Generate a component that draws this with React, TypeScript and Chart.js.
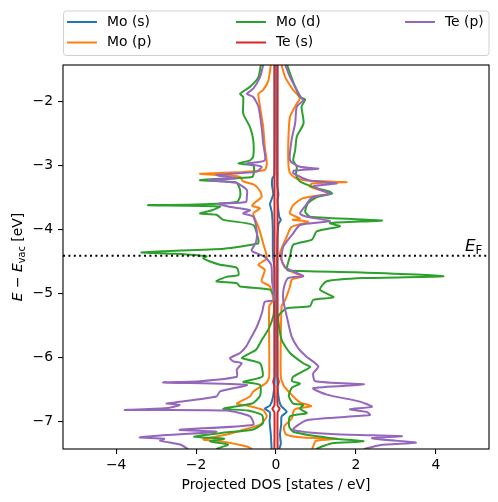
import { useEffect, useRef } from "react";
import { Chart, registerables } from "chart.js";

Chart.register(...registerables);

const FONT = "'DejaVu Sans', sans-serif";
const species = ["Mo (s)", "Mo (p)", "Mo (d)", "Te (s)", "Te (p)"];
const colors = ["#1f77b4", "#ff7f0e", "#2ca02c", "#d62728", "#9467bd"];
const xTicks = [-4, -2, 0, 2, 4];
const yTicks = [-2, -3, -4, -5, -6, -7];
const fermiLevel = -4.41;
const dosRange = [-5.33, 5.33];
const energyRange = [-7.43, -1.43];

// [energy (eV), projected DOS (states/eV)]; up = positive, down = negative
const moSUp: [number, number][] = [[-1.43,0.03],[-3.3,0.03],[-3.45,0.06],[-3.55,0.04],[-3.8,0.08],[-3.85,0.12],[-3.92,0.06],[-4.3,0.03],[-6.3,0.03],[-6.6,0.06],[-6.75,0.12],[-6.85,0.27],[-6.92,0.14],[-7.05,0.13],[-7.2,0.1],[-7.35,0.12],[-7.43,0.08]];
const moSDown: [number, number][] = [[-1.43,-0.03],[-3.15,-0.04],[-3.2,-0.09],[-3.3,-0.1],[-3.45,-0.07],[-3.6,-0.15],[-3.66,-0.13],[-3.75,-0.1],[-4.0,-0.08],[-4.3,-0.08],[-4.45,-0.07],[-4.6,-0.04],[-6.3,-0.03],[-6.6,-0.07],[-6.75,-0.15],[-6.8,-0.28],[-6.86,-0.15],[-7.0,-0.16],[-7.2,-0.13],[-7.43,-0.11]];
const moPUp: [number, number][] = [[-1.43,0.14],[-1.62,0.23],[-1.82,0.43],[-1.95,0.6],[-2.03,0.52],[-2.24,0.35],[-2.6,0.31],[-2.97,0.31],[-3.12,0.35],[-3.2,0.5],[-3.24,0.85],[-3.26,1.77],[-3.28,0.9],[-3.33,0.85],[-3.41,1.23],[-3.44,1.35],[-3.51,0.68],[-3.62,0.43],[-3.75,0.35],[-3.83,0.6],[-3.85,0.42],[-3.88,0.81],[-3.96,0.39],[-4.11,0.27],[-4.37,0.1],[-4.5,0.15],[-4.6,0.23],[-4.69,0.5],[-4.73,0.68],[-4.78,0.4],[-4.89,0.35],[-5.1,0.23],[-5.2,0.14],[-6.3,0.12],[-6.45,0.2],[-6.5,0.27],[-6.61,0.43],[-6.7,0.6],[-6.76,0.88],[-6.8,0.5],[-6.85,0.43],[-6.95,0.4],[-7.08,0.2],[-7.2,0.25],[-7.25,0.68],[-7.27,1.52],[-7.3,1.0],[-7.39,0.93],[-7.43,0.9]];
const moPDown: [number, number][] = [[-1.43,-0.13],[-1.67,-0.19],[-1.82,-0.32],[-1.88,-0.44],[-2.08,-0.4],[-2.4,-0.32],[-2.71,-0.28],[-2.97,-0.23],[-3.07,-0.28],[-3.1,-0.8],[-3.13,-1.9],[-3.16,-1.1],[-3.18,-0.9],[-3.25,-0.82],[-3.3,-0.55],[-3.4,-0.4],[-3.49,-0.36],[-3.58,-0.53],[-3.63,-0.6],[-3.67,-0.4],[-3.75,-0.57],[-3.96,-0.44],[-4.22,-0.32],[-4.45,-0.23],[-4.55,-0.44],[-4.63,-0.28],[-4.81,-0.36],[-4.89,-0.15],[-5.1,-0.07],[-5.2,-0.17],[-6.3,-0.17],[-6.4,-0.25],[-6.53,-0.57],[-6.61,-0.65],[-6.72,-0.98],[-6.75,-0.73],[-6.82,-0.33],[-6.92,-0.23],[-7.05,-0.4],[-7.13,-0.82],[-7.2,-1.2],[-7.28,-1.82],[-7.31,-1.4],[-7.39,-0.73],[-7.43,-0.6]];
const moDUp: [number, number][] = [[-1.43,0.28],[-1.56,0.35],[-1.77,0.48],[-1.93,0.6],[-1.97,0.73],[-2.08,0.64],[-2.34,0.69],[-2.55,0.52],[-2.76,0.48],[-2.92,0.43],[-3.02,0.52],[-3.15,0.5],[-3.25,0.6],[-3.35,1.0],[-3.41,1.35],[-3.44,1.4],[-3.5,1.0],[-3.59,0.8],[-3.72,0.73],[-3.8,0.85],[-3.86,2.65],[-3.9,1.35],[-3.95,1.6],[-4.03,1.02],[-4.16,0.9],[-4.24,0.43],[-4.42,0.35],[-4.6,0.27],[-4.64,0.3],[-4.67,2.0],[-4.73,4.19],[-4.76,2.2],[-4.81,1.27],[-4.94,1.1],[-5.06,1.44],[-5.1,0.93],[-5.2,0.85],[-5.23,0.27],[-5.36,0.06],[-5.72,0.14],[-5.93,0.35],[-6.09,0.68],[-6.15,0.85],[-6.3,0.43],[-6.37,0.4],[-6.41,0.6],[-6.47,0.4],[-6.6,0.32],[-6.72,0.43],[-6.74,0.68],[-6.8,0.6],[-6.87,0.77],[-6.92,0.35],[-7.08,0.33],[-7.16,0.43],[-7.22,0.9],[-7.27,1.5],[-7.31,2.19],[-7.34,1.4],[-7.38,1.2],[-7.43,1.0]];
const moDDown: [number, number][] = [[-1.43,-0.38],[-1.62,-0.44],[-1.77,-0.65],[-1.88,-0.9],[-1.93,-0.82],[-2.19,-0.82],[-2.4,-0.65],[-2.6,-0.57],[-2.86,-0.57],[-2.92,-0.65],[-2.97,-0.94],[-3.0,-0.57],[-3.1,-0.55],[-3.18,-0.6],[-3.21,-1.5],[-3.23,-1.9],[-3.26,-1.0],[-3.3,-0.95],[-3.38,-0.9],[-3.49,-0.9],[-3.57,-0.98],[-3.61,-2.0],[-3.62,-3.2],[-3.64,-1.4],[-3.7,-1.6],[-3.75,-1.9],[-3.77,-1.49],[-3.85,-1.32],[-3.93,-0.57],[-4.16,-0.44],[-4.22,-0.45],[-4.3,-1.3],[-4.34,-2.8],[-4.36,-3.37],[-4.38,-2.5],[-4.42,-1.74],[-4.45,-1.82],[-4.5,-1.65],[-4.55,-1.4],[-4.6,-0.98],[-4.71,-0.94],[-4.74,-1.24],[-4.81,-1.49],[-4.84,-0.98],[-4.89,-0.9],[-4.94,-0.15],[-5.05,-0.05],[-5.25,-0.05],[-5.36,-0.07],[-5.55,-0.18],[-5.72,-0.35],[-5.88,-0.5],[-5.96,-0.73],[-6.01,-0.85],[-6.09,-0.4],[-6.3,-0.34],[-6.38,-0.82],[-6.43,-0.4],[-6.6,-0.4],[-6.72,-0.6],[-6.8,-1.32],[-6.83,-0.7],[-6.9,-0.35],[-7.03,-0.33],[-7.13,-0.6],[-7.18,-1.37],[-7.24,-2.05],[-7.27,-1.3],[-7.31,-1.65],[-7.36,-1.2],[-7.43,-1.5]];
const teSUp: [number, number][] = [[-1.43,0.04],[-6.3,0.04],[-6.38,0.07],[-6.45,0.04],[-6.75,0.04],[-6.8,0.09],[-6.86,0.04],[-7.43,0.04]];
const teSDown: [number, number][] = [[-1.43,-0.04],[-6.3,-0.04],[-6.38,-0.07],[-6.45,-0.04],[-6.75,-0.04],[-6.8,-0.09],[-6.86,-0.04],[-7.43,-0.04]];
const tePUp: [number, number][] = [[-1.43,0.23],[-1.62,0.35],[-1.82,0.52],[-1.95,0.64],[-1.98,0.69],[-2.08,0.52],[-2.34,0.48],[-2.6,0.39],[-2.92,0.35],[-3.02,0.6],[-3.05,1.06],[-3.08,0.45],[-3.12,0.43],[-3.23,0.81],[-3.28,1.52],[-3.32,0.95],[-3.38,1.1],[-3.44,1.35],[-3.5,0.9],[-3.6,0.77],[-3.75,0.6],[-3.8,0.77],[-3.87,1.35],[-3.93,0.6],[-4.06,0.43],[-4.27,0.18],[-4.48,0.14],[-4.6,0.25],[-4.7,0.6],[-4.73,0.68],[-4.76,0.3],[-4.9,0.2],[-5.1,0.18],[-5.36,0.27],[-5.67,0.39],[-5.85,0.55],[-5.98,0.75],[-6.14,1.06],[-6.25,0.93],[-6.37,0.98],[-6.42,2.2],[-6.48,0.93],[-6.58,1.27],[-6.69,2.1],[-6.77,2.4],[-6.81,1.85],[-6.85,2.27],[-6.9,2.35],[-6.98,0.77],[-7.13,0.43],[-7.2,1.5],[-7.23,3.15],[-7.26,2.4],[-7.29,2.8],[-7.33,3.5],[-7.37,2.6],[-7.43,2.2]];
const tePDown: [number, number][] = [[-1.43,-0.32],[-1.62,-0.4],[-1.8,-0.57],[-1.88,-0.73],[-1.93,-0.57],[-2.08,-0.44],[-2.4,-0.36],[-2.66,-0.32],[-2.92,-0.28],[-2.97,-0.73],[-3.02,-0.36],[-3.1,-0.5],[-3.15,-1.49],[-3.2,-1.0],[-3.23,-1.7],[-3.27,-1.0],[-3.38,-0.73],[-3.49,-0.73],[-3.57,-0.75],[-3.6,-1.45],[-3.64,-1.2],[-3.67,-0.9],[-3.7,-0.65],[-3.75,-0.82],[-3.8,-0.57],[-4.03,-0.48],[-4.2,-0.5],[-4.32,-0.61],[-4.35,-0.57],[-4.42,-0.3],[-4.55,-0.12],[-4.8,-0.1],[-5.1,-0.05],[-5.13,-0.28],[-5.3,-0.35],[-5.52,-0.48],[-5.72,-0.65],[-5.83,-0.75],[-5.93,-0.9],[-6.01,-1.15],[-6.06,-1.07],[-6.09,-0.86],[-6.19,-0.98],[-6.3,-0.98],[-6.37,-1.9],[-6.39,-2.82],[-6.43,-0.73],[-6.53,-1.4],[-6.61,-1.49],[-6.7,-2.5],[-6.72,-2.74],[-6.74,-2.41],[-6.79,-2.7],[-6.82,-3.78],[-6.83,-1.24],[-6.92,-0.65],[-7.05,-0.57],[-7.13,-2.41],[-7.16,-1.49],[-7.22,-2.9],[-7.25,-3.41],[-7.27,-2.8],[-7.3,-2.9],[-7.36,-2.4],[-7.43,-2.2]];

const fmt = (v: number) => (v < 0 ? "\u2212" + Math.abs(v) : String(v));

type Seg = { t: string; italic?: boolean; sub?: boolean };

function drawSegments(ctx: CanvasRenderingContext2D, segs: Seg[], size: number, align: "center" | "left") {
  const fontOf = (s: Seg) => `${s.italic ? "italic " : ""}${s.sub ? size * 0.7 : size}px ${FONT}`;
  let total = 0;
  const widths = segs.map((s) => {
    ctx.font = fontOf(s);
    const w = ctx.measureText(s.t).width;
    total += w;
    return w;
  });
  let x = align === "center" ? -total / 2 : 0;
  ctx.textAlign = "left";
  ctx.textBaseline = "alphabetic";
  segs.forEach((s, i) => {
    ctx.font = fontOf(s);
    ctx.fillText(s.t, x, s.sub ? size * 0.2 : 0);
    x += widths[i];
  });
}

const overlayPlugin = {
  id: "overlay",
  afterDraw(chart: any) {
    const { ctx, chartArea: a } = chart;
    ctx.save();
    // axes frame
    ctx.strokeStyle = "#000";
    ctx.lineWidth = 1.1;
    ctx.strokeRect(a.left, a.top, a.right - a.left, a.bottom - a.top);

    // legend
    ctx.beginPath();
    ctx.roundRect(63.5, 11, 425.5, 44.5, 3);
    ctx.fillStyle = "rgba(255,255,255,0.8)";
    ctx.fill();
    ctx.strokeStyle = "#d0d0d0";
    ctx.lineWidth = 1;
    ctx.stroke();
    const colX = [67, 236, 405];
    const rowY = [22, 42.5];
    species.forEach((name, i) => {
      const cx = colX[Math.floor(i / 2)];
      const cy = rowY[i % 2];
      ctx.strokeStyle = colors[i];
      ctx.lineWidth = 2;
      ctx.beginPath();
      ctx.moveTo(cx, cy);
      ctx.lineTo(cx + 30, cy);
      ctx.stroke();
      ctx.fillStyle = "#000";
      ctx.font = `13.9px ${FONT}`;
      ctx.textAlign = "left";
      ctx.textBaseline = "middle";
      ctx.fillText(name, cx + 40, cy);
    });

    // x label
    ctx.fillStyle = "#000";
    ctx.font = `13.9px ${FONT}`;
    ctx.textAlign = "center";
    ctx.textBaseline = "alphabetic";
    ctx.fillText("Projected DOS [states / eV]", (a.left + a.right) / 2, 489);

    // y label
    ctx.save();
    ctx.translate(22, (a.top + a.bottom) / 2);
    ctx.rotate(-Math.PI / 2);
    drawSegments(ctx, [{ t: "E", italic: true }, { t: " \u2212 " }, { t: "E", italic: true }, { t: "vac", sub: true }, { t: " [eV]" }], 13.9, "center");
    ctx.restore();

    // Fermi label
    ctx.save();
    ctx.translate(465, 251);
    drawSegments(ctx, [{ t: "E", italic: true }, { t: "F", sub: true }], 16.7, "left");
    ctx.restore();
    ctx.restore();
  },
};

export default function App() {
  const ref = useRef<HTMLCanvasElement>(null);
  useEffect(() => {
    const canvas = ref.current;
    if (!canvas) return;
    const series = [
      [moSUp, moSDown],
      [moPUp, moPDown],
      [moDUp, moDDown],
      [teSUp, teSDown],
      [tePUp, tePDown],
    ];
    const datasets: any[] = [];
    series.forEach((pair, i) => {
      pair.forEach((curve) =>
        datasets.push({
          label: species[i],
          data: curve.map(([e, d]) => ({ x: d, y: e })),
          showLine: true,
          borderColor: colors[i],
          backgroundColor: colors[i],
          borderWidth: 2,
          pointRadius: 0,
          pointHoverRadius: 0,
          fill: false,
          tension: 0.2,
          borderJoinStyle: "round",
          order: 5 - i,
        })
      );
    });
    datasets.push({
      label: "E_F",
      data: [
        { x: dosRange[0], y: fermiLevel },
        { x: dosRange[1], y: fermiLevel },
      ],
      showLine: true,
      borderColor: "#000",
      borderWidth: 2,
      borderDash: [2, 3.4],
      pointRadius: 0,
      fill: false,
      order: 0,
    });

    const tickFont = { family: FONT, size: 13.9 };
    const chart = new Chart(canvas, {
      type: "scatter",
      data: { datasets },
      plugins: [overlayPlugin],
      options: {
        animation: false,
        responsive: false,
        devicePixelRatio: 1,
        layout: { padding: { top: 65, right: 9, bottom: 0, left: 0 } },
        plugins: { legend: { display: false }, tooltip: { enabled: false } },
        events: [],
        scales: {
          x: {
            type: "linear",
            min: dosRange[0],
            max: dosRange[1],
            afterBuildTicks: (s: any) => {
              s.ticks = xTicks.map((v) => ({ value: v }));
            },
            afterFit: (s: any) => {
              s.height = 53;
            },
            ticks: { callback: (v: any) => fmt(Number(v)), font: tickFont, color: "#000", padding: 3, maxRotation: 0, autoSkip: false },
            grid: { drawOnChartArea: false, drawTicks: true, tickLength: 5, color: "#000", lineWidth: 1.1 },
            border: { display: false },
          },
          y: {
            type: "linear",
            min: energyRange[0],
            max: energyRange[1],
            afterBuildTicks: (s: any) => {
              s.ticks = yTicks.map((v) => ({ value: v }));
            },
            afterFit: (s: any) => {
              s.width = 63;
            },
            ticks: { callback: (v: any) => fmt(Number(v)), font: tickFont, color: "#000", padding: 5, autoSkip: false },
            grid: { drawOnChartArea: false, drawTicks: true, tickLength: 5, color: "#000", lineWidth: 1.1 },
            border: { display: false },
          },
        },
      },
    } as any);
    return () => chart.destroy();
  }, []);

  return (
    <div style={{ position: "fixed", left: 0, top: 0, width: 498, height: 502, background: "#fff" }}>
      <canvas ref={ref} width={498} height={502} style={{ width: 498, height: 502, display: "block" }} />
    </div>
  );
}
